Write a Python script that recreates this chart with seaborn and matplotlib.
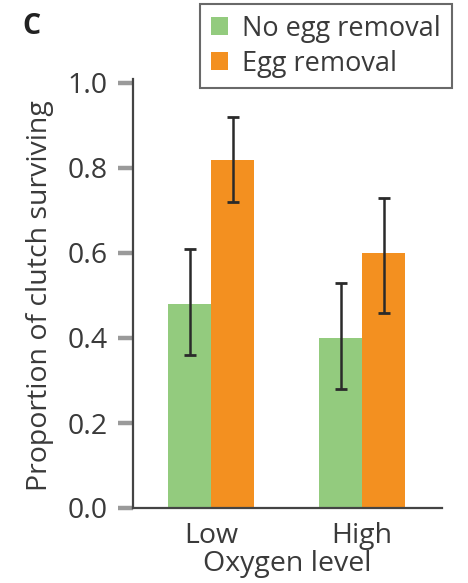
import matplotlib
matplotlib.use("Agg")
import matplotlib.pyplot as plt
import seaborn as sns
import pandas as pd
import numpy as np
from matplotlib.patches import Patch

levels = ["Low", "High"]
treatments = ["No egg removal", "Egg removal"]
no_removal = [0.48, 0.40]
no_removal_lo = [0.36, 0.28]
no_removal_hi = [0.61, 0.53]
removal = [0.82, 0.60]
removal_lo = [0.72, 0.46]
removal_hi = [0.92, 0.73]
yticks = [0.0, 0.2, 0.4, 0.6, 0.8, 1.0]

sns.set_theme(style="white")
plt.rcParams["font.family"] = ["Open Sans", "DejaVu Sans"]
txt = "#3a3a3a"
fs = 20.5

df = pd.DataFrame({
    "level": levels * 2,
    "treatment": [treatments[0]] * 2 + [treatments[1]] * 2,
    "value": no_removal + removal,
    "lo": no_removal_lo + removal_lo,
    "hi": no_removal_hi + removal_hi,
})

fig = plt.figure(figsize=(4.68, 5.83), dpi=100)
ax = fig.add_axes([133 / 468, 1 - 508 / 583, (442 - 133) / 468, (508 - 83) / 583])
palette = {treatments[0]: "#93CB7E", treatments[1]: "#F39020"}
sns.barplot(data=df, x="level", y="value", hue="treatment", order=levels,
            hue_order=treatments, palette=palette, errorbar=None, width=0.57,
            saturation=1, linewidth=0, ax=ax, legend=False)

# error bars at bar centres
for cont, t in zip(ax.containers, treatments):
    sub = df[df.treatment == t].set_index("level").loc[levels]
    xs = [b.get_x() + b.get_width() / 2 for b in cont]
    ys = sub["value"].values
    err = np.vstack([ys - sub["lo"].values, sub["hi"].values - ys])
    ax.errorbar(xs, ys, yerr=err, fmt="none", ecolor="#2a2a2a", elinewidth=1.8,
                capsize=4, capthick=2)

ax.set_ylim(0, 1.0)
ax.set_xlim(-0.52, 1.53)
ax.set_yticks(yticks)
ax.set_yticklabels([f"{v:.1f}" for v in yticks])
for s in ["top", "right"]:
    ax.spines[s].set_visible(False)
for s in ["left", "bottom"]:
    ax.spines[s].set_color("#444444")
    ax.spines[s].set_linewidth(1.6)
ax.spines["left"].set_bounds(0, 1.01)
ax.tick_params(axis="y", left=True, direction="out", length=11, width=3.2,
               color="#9a9a9a", labelsize=fs, labelcolor=txt, pad=7)
ax.tick_params(axis="x", bottom=False, length=0, labelsize=fs, labelcolor=txt, pad=10)
ax.set_xlabel("Oxygen level", fontsize=fs, color=txt, labelpad=0)
ax.set_ylabel("Proportion of clutch surviving", fontsize=fs, color=txt, labelpad=10)

handles = [Patch(facecolor=palette[t], edgecolor="none") for t in treatments]
leg = fig.legend(handles, treatments, loc="upper left",
                 bbox_to_anchor=(200 / 468, 1 - 4 / 583), fontsize=19.5,
                 frameon=True, fancybox=False, handlelength=0.65, handleheight=0.65,
                 handletextpad=0.5, borderpad=0.4, labelspacing=0.25,
                 borderaxespad=0)
leg.get_frame().set_edgecolor("#444444")
leg.get_frame().set_linewidth(1.5)
for t in leg.get_texts():
    t.set_color(txt)

fig.text(22 / 468, 1 - 27 / 583, "C", fontsize=fs, fontweight="bold", color="#222222",
         ha="left", va="center")

fig.savefig("out.png", dpi=100)
